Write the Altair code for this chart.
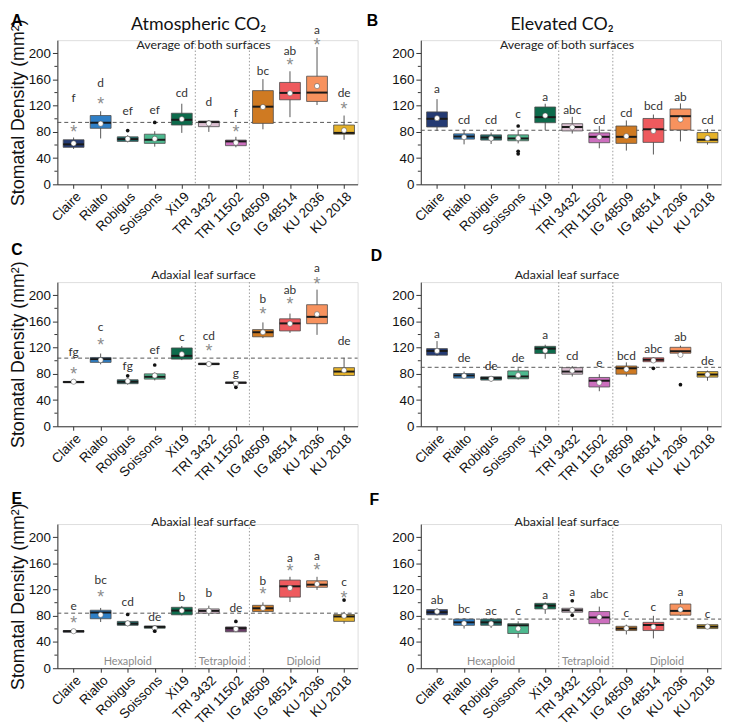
import altair as alt
import pandas as pd

# ---------------- categories / groups ----------------
cultivars = ["Claire", "Rialto", "Robigus", "Soissons", "Xi19", "TRI 3432",
             "TRI 11502", "IG 48509", "IG 48514", "KU 2036", "KU 2018"]
palette = ["#243a73", "#2f7fc6", "#1f6d6a", "#4db98f", "#0d6b4c", "#dcc0d2",
           "#cc6fbe", "#cf7a22", "#ee5a5e", "#f7925e", "#e5b22a"]
groups = ["Hexaploid", "Tetraploid", "Diploid"]
group_sizes = [5, 2, 4]

# ---------------- Panel A : atmospheric CO2, average ----------------
A_low  = [54, 70, 64, 57.5, 78.5, 80, 56.5, 84, 102.5, 121, 68]
A_q1   = [56.5, 85.5, 65.5, 62.5, 90.5, 88, 59, 93, 129, 126.5, 76.5]
A_med  = [61, 94, 69, 68, 98.5, 95, 65.5, 118.5, 139.5, 140, 78.5]
A_q3   = [68, 105, 72.5, 76.5, 108.5, 96.5, 67.5, 143, 155.5, 165, 90.5]
A_high = [71.5, 111.5, 75, 81, 123, 98, 72.5, 160.5, 172.5, 209.5, 105]
A_mean = [62.5, 92.5, 69.5, 69.5, 99.5, 93, 63.5, 118, 139, 150, 82.5]
A_out_cult = ["Robigus", "Soissons"]
A_out_val  = [82, 94.5]
A_let   = ["f", "d", "ef", "ef", "cd", "d", "f", "bc", "ab", "a", "de"]
A_let_y = [131, 155, 111.5, 113.5, 139, 125, 109, 173.5, 204, 235, 139]
A_star  = [86, 130, None, None, None, None, 86.5, None, 189, 219, 121.5]
A_ref = 94.5

# ---------------- Panel B : elevated CO2, average ----------------
B_low  = [81.5, 61, 61.5, 62.5, 82.5, 77.5, 55, 51.5, 45.5, 65.5, 60.5]
B_q1   = [87.5, 69, 67.5, 66.5, 94, 81.5, 63.5, 62.5, 64, 83, 63.5]
B_med  = [100, 73, 71.5, 70, 102.5, 87.5, 72.5, 72.5, 84, 104, 68]
B_q3   = [110.5, 77, 75.5, 75.5, 118, 92.5, 78.5, 89, 100.5, 115, 79]
B_high = [130, 83, 79, 82, 123, 103, 89, 97.5, 106.5, 123.5, 84]
B_mean = [101, 72, 70, 70.5, 105, 87, 72, 73.5, 81.5, 99, 70.5]
B_out_cult = ["Soissons", "Soissons", "Soissons"]
B_out_val  = [89, 50.5, 46.5]
B_let   = ["a", "cd", "cd", "c", "a", "abc", "cd", "cd", "bcd", "ab", "cd"]
B_let_y = [145.5, 98, 98, 108, 133, 113.5, 98, 109, 119, 133.5, 97.5]
B_star  = [None] * 11
B_ref = 82.5

# ---------------- Panel C : atmospheric CO2, adaxial ----------------
C_low  = [66, 94.5, 63.5, 70, 101, 94, 65.5, 134.5, 142.5, 139.5, 76.5]
C_q1   = [66.5, 97.5, 65, 72, 102.5, 94, 65.5, 136.5, 145.5, 156.5, 77.5]
C_med  = [67.5, 102.5, 68, 75.5, 107.5, 95, 66.5, 143.5, 157, 167, 83.5]
C_q3   = [68.5, 105, 71, 80, 119.5, 96.5, 67.5, 147.5, 164, 185.5, 89.5]
C_high = [69, 111, 72.5, 82, 122.5, 96.5, 67.5, 158.5, 172, 208.5, 104.5]
C_mean = [68, 101, 69, 77.5, 110, 95, 65, 143.5, 156.5, 171, 85.5]
C_out_cult = ["Robigus", "Soissons", "TRI 11502"]
C_out_val  = [77, 93.5, 59.5]
C_let   = ["fg", "c", "fg", "ef", "c", "cd", "g", "b", "ab", "a", "de"]
C_let_y = [113.5, 151, 92.5, 116, 136, 137, 81, 193.5, 208.5, 241, 130.5]
C_star  = [86, 130, None, None, None, 121, None, 177.5, 193.5, 224.5, None]
C_ref = 104

# ---------------- Panel D : elevated CO2, adaxial ----------------
D_low  = [107.5, 72, 68, 71.5, 103, 76, 53.5, 76, 97.5, 111, 69.5]
D_q1   = [108.5, 73.5, 70.5, 72.5, 111, 79.5, 60, 79.5, 98.5, 111.5, 75]
D_med  = [115, 77.5, 73.5, 76, 118.5, 83.5, 69.5, 88.5, 101.5, 114.5, 79]
D_q3   = [118.5, 80.5, 75.5, 84.5, 122, 89.5, 74.5, 92, 104.5, 120.5, 83.5]
D_high = [130, 83.5, 76.5, 88.5, 124.5, 92, 79.5, 97.5, 105.5, 123, 85]
D_mean = [115, 77, 72.5, 78, 115.5, 85, 66.5, 87, 100.5, 109, 79]
D_out_cult = ["IG 48514", "KU 2036"]
D_out_val  = [88.5, 63.5]
D_let   = ["a", "de", "de", "de", "a", "cd", "e", "bcd", "abc", "ab", "de"]
D_let_y = [141, 103.5, 91.5, 103.5, 138.5, 107.5, 96, 107.5, 118.5, 136, 100]
D_star  = [None] * 11
D_ref = 90

# ---------------- Panel E : atmospheric CO2, abaxial ----------------
E_low  = [55, 70.5, 64, 60.5, 80.5, 80, 55, 86, 101, 119.5, 68]
E_q1   = [55, 75.5, 65.5, 61, 81.5, 84, 55.5, 86.5, 108.5, 123.5, 71.5]
E_med  = [56.5, 85, 68, 63, 88, 87.5, 61, 91.5, 125, 127.5, 79]
E_q3   = [57.5, 88.5, 71.5, 64.5, 93, 90.5, 63, 96, 134.5, 133.5, 82]
E_high = [58, 92, 72.5, 65, 95, 95.5, 64, 100.5, 139.5, 139.5, 86]
E_mean = [56.5, 81.5, 68.5, 61, 88, 87.5, 60, 92, 122.5, 128.5, 80]
E_out_cult = ["Robigus", "Soissons", "TRI 11502", "KU 2018"]
E_out_val  = [82, 56.5, 71.5, 104]
E_let   = ["e", "bc", "cd", "de", "b", "b", "de", "b", "a", "a", "c"]
E_let_y = [95, 134.5, 101, 78.5, 109, 115, 91.5, 133.5, 167.5, 171, 131]
E_star  = [75, 116, None, None, None, None, None, 120, 154.5, 157, 114.5]
E_ref = 84

# ---------------- Panel F : elevated CO2, abaxial ----------------
F_low  = [80.5, 60.5, 61.5, 46.5, 83, 85.5, 64, 51.5, 45.5, 80, 60.5]
F_q1   = [81.5, 65.5, 65.5, 53, 90.5, 85.5, 68, 57.5, 57.5, 81, 60.5]
F_med  = [85.5, 70, 70, 65.5, 95.5, 88.5, 77.5, 60.5, 66, 87.5, 63.5]
F_q3   = [89.5, 75, 75, 68, 99, 91.5, 86.5, 64, 70, 98, 66.5]
F_high = [91.5, 76.5, 76.5, 71.5, 100.5, 92.5, 94, 66.5, 80, 105.5, 67.5]
F_mean = [86.5, 68.5, 68, 60.5, 93.5, 89, 78, 61, 63, 89.5, 63.5]
F_out_cult = ["TRI 3432", "TRI 3432"]
F_out_val  = [103, 81]
F_let   = ["ab", "bc", "ac", "c", "a", "a", "abc", "c", "c", "a", "c"]
F_let_y = [103.5, 90, 86.5, 86.5, 111, 116, 113.5, 84, 93, 116, 83]
F_star  = [None] * 11
F_ref = 75

W, H = 304, 146
YMAX = 220
HALF = 0.385

xs = alt.Scale(domain=[-0.6, 10.5], nice=False, zero=False)
ys = alt.Scale(domain=[0, YMAX], nice=False, zero=False)
label_expr = "[" + ",".join("'" + c + "'" for c in cultivars) + "][datum.value]"

x_axis = alt.Axis(values=list(range(len(cultivars))), labelExpr=label_expr,
                  labelAngle=-45, labelFontSize=13.5, labelFont="Liberation Sans",
                  labelColor="#111", tickSize=4, tickColor="#333", domainColor="#333",
                  labelPadding=1, title=None, grid=False, labelOverlap=False,
                  labelFlush=False)


def y_axis(title):
    return alt.Axis(values=[0, 40, 80, 120, 160, 200], labelFontSize=13.5,
                    labelFont="Liberation Sans", labelColor="#111", tickSize=5,
                    tickColor="#333", domainColor="#333", labelPadding=2,
                    title=title, titleFontSize=18, titleFont="Liberation Sans",
                    titleFontWeight="normal", titleColor="#111", titlePadding=1,
                    grid=False, labelFlush=False)


# group centres and separators derived from group membership
centres, seps, start = [], [], 0
for n in group_sizes:
    centres.append(start + (n - 1) / 2)
    start += n
    if start < len(cultivars):
        seps.append(start - 0.5)


def panel(low, q1, med, q3, high, mean, out_c, out_v, lets, let_y, stars, ref,
          subtitle, sub_y, letter, lxy, ytitle, coltitle, show_groups, pal):
    yax = y_axis(ytitle)

    def X(f):
        return alt.X(f, type="quantitative", scale=xs, axis=x_axis)

    def Y(f):
        return alt.Y(f, type="quantitative", scale=ys, axis=yax)

    box = pd.DataFrame({"idx": list(range(len(cultivars))), "cultivar": cultivars,
                        "low": low, "q1": q1, "med": med, "q3": q3, "high": high,
                        "mean": mean, "letter": lets, "let_y": let_y,
                        "star": stars, "color": pal})
    star_df = box.dropna(subset=["star"])
    out_df = pd.DataFrame({"cultivar": out_c, "v": out_v})
    out_df["idx"] = [cultivars.index(c) for c in out_c]

    base = alt.Chart(box)
    wide = base.transform_calculate(xl="datum.idx - %f" % HALF,
                                    xh="datum.idx + %f" % HALF)

    sep_l = alt.Chart(pd.DataFrame({"sep": seps})).mark_rule(
        color="#9a9a9a", strokeDash=[1.5, 2], strokeWidth=1).encode(
        x=X("sep"), y=alt.value(0), y2=alt.value(H))
    ref_l = alt.Chart(pd.DataFrame({"ref": [ref]})).mark_rule(
        color="#555", strokeDash=[4, 3], strokeWidth=1).encode(
        y=Y("ref"), x=alt.value(0), x2=alt.value(W))
    whisk = base.mark_rule(color="#555", strokeWidth=1).encode(
        x=X("idx"), y=Y("low"), y2=alt.Y2("high"))
    boxes = wide.mark_rect(stroke="#4d4d4d", strokeWidth=0.8).encode(
        x=X("xl"), x2=alt.X2("xh"), y=Y("q1"), y2=alt.Y2("q3"),
        fill=alt.Fill("color:N", scale=None))
    med_l = wide.mark_rule(color="#1a1a1a", strokeWidth=2).encode(
        x=X("xl"), x2=alt.X2("xh"), y=Y("med"))
    means = base.mark_circle(color="white", stroke="#444", strokeWidth=0.5,
                             size=28, opacity=1).encode(x=X("idx"), y=Y("mean"))
    outs = alt.Chart(out_df).mark_circle(color="#111", size=14, opacity=1).encode(
        x=X("idx"), y=Y("v"))
    letters = base.mark_text(font="Lato", fontSize=12, color="#333",
                             baseline="middle").encode(
        x=X("idx"), y=Y("let_y"), text="letter:N")
    layers = [sep_l, ref_l, whisk, boxes, med_l, means, outs, letters]
    if len(star_df):
        layers.append(alt.Chart(star_df).mark_text(
            text="*", font="Liberation Sans", fontSize=18, color="#8c8c8c",
            baseline="alphabetic", dy=10.5).encode(x=X("idx"), y=Y("star")))
    minor = alt.Chart(pd.DataFrame({"v": [20, 60, 100, 140, 180]})).mark_rule(
        color="#333", strokeWidth=1).encode(y=Y("v"), x=alt.value(0), x2=alt.value(-3))
    layers.append(minor)
    layers.append(alt.Chart(pd.DataFrame({"t": [subtitle]})).mark_text(
        font="Lato", fontSize=12.5, color="#222", baseline="middle").encode(
        text="t:N", x=alt.value(148), y=alt.value(sub_y)))
    layers.append(alt.Chart(pd.DataFrame({"t": [letter]})).mark_text(
        font="Liberation Sans", fontWeight="bold", fontSize=16, color="#000",
        baseline="middle").encode(text="t:N", x=alt.value(lxy[0]), y=alt.value(lxy[1])))
    if coltitle:
        layers.append(alt.Chart(pd.DataFrame({"t": [coltitle]})).mark_text(
            font="Lato", fontSize=18, color="#111", baseline="middle").encode(
            text="t:N", x=alt.value(143), y=alt.value(-15)))
    if show_groups:
        layers.append(alt.Chart(pd.DataFrame({"g": groups, "c": centres})).mark_text(
            font="Lato", fontSize=11, color="#8a8a8a", baseline="middle").encode(
            x=X("c"), y=alt.value(H - 6), text="g:N"))
    return alt.layer(*layers).properties(width=W, height=H)


ytitle = "Stomatal Density (mm²)"
pal_E = list(palette)
pal_E[6] = "#6b3e69"

pA = panel(A_low, A_q1, A_med, A_q3, A_high, A_mean, A_out_cult, A_out_val, A_let,
           A_let_y, A_star, A_ref, "Average of both surfaces", 5, "A", (-41, -19),
           ytitle, "Atmospheric CO₂", False, palette)
pB = panel(B_low, B_q1, B_med, B_q3, B_high, B_mean, B_out_cult, B_out_val, B_let,
           B_let_y, B_star, B_ref, "Average of both surfaces", 5, "B", (-49, -19),
           None, "Elevated CO₂", False, palette)
pC = panel(C_low, C_q1, C_med, C_q3, C_high, C_mean, C_out_cult, C_out_val, C_let,
           C_let_y, C_star, C_ref, "Adaxial leaf surface", -7, "C", (-41, -32),
           ytitle, None, False, palette)
pD = panel(D_low, D_q1, D_med, D_q3, D_high, D_mean, D_out_cult, D_out_val, D_let,
           D_let_y, D_star, D_ref, "Adaxial leaf surface", -7, "D", (-45, -26),
           None, None, False, palette)
pE = panel(E_low, E_q1, E_med, E_q3, E_high, E_mean, E_out_cult, E_out_val, E_let,
           E_let_y, E_star, E_ref, "Abaxial leaf surface", -2, "E", (-41, -25),
           ytitle, None, True, pal_E)
pF = panel(F_low, F_q1, F_med, F_q3, F_high, F_mean, F_out_cult, F_out_val, F_let,
           F_let_y, F_star, F_ref, "Abaxial leaf surface", -2, "F", (-47, -24),
           None, None, True, palette)

chart = alt.concat(pA, pB, pC, pD, pE, pF, columns=2,
                   spacing={"row": 99, "column": 64}, bounds="flush",
                   padding=0).configure_view(
    stroke=None).configure(font="Liberation Sans", background="white")

chart.save("out.html", embed_options={"renderer": "svg", "actions": False})
